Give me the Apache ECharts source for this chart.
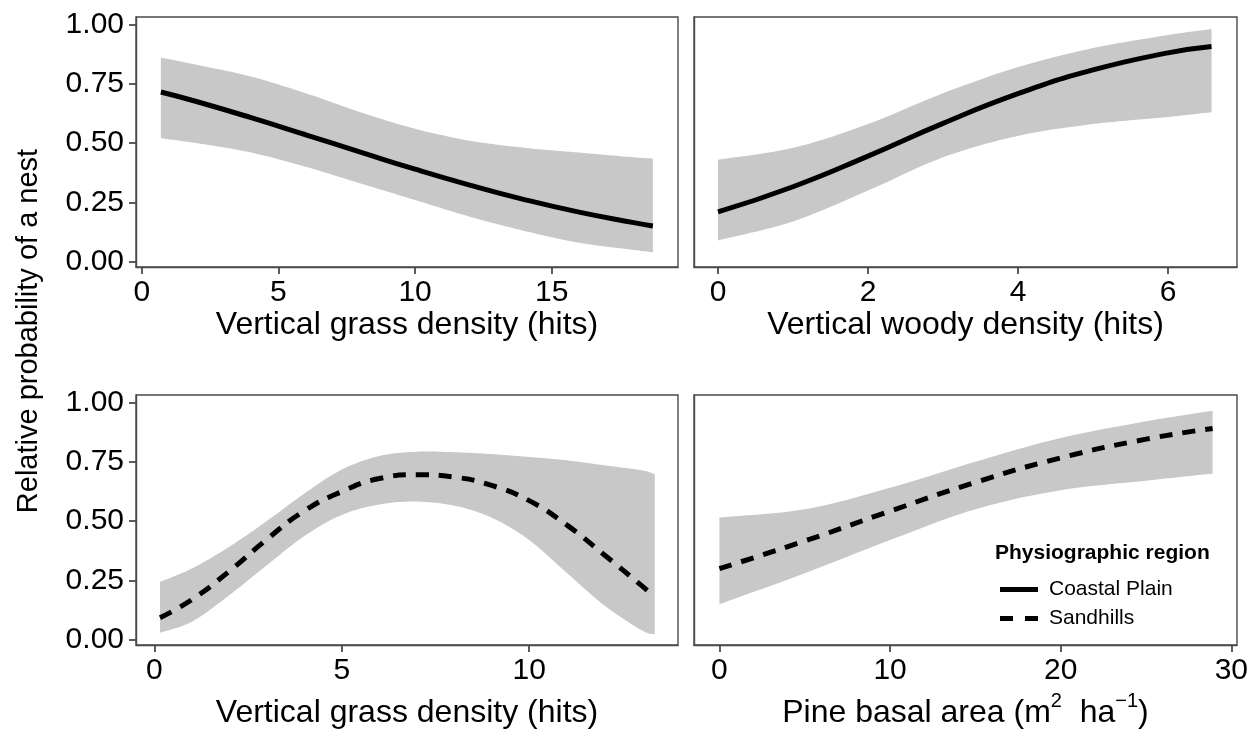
<!DOCTYPE html>
<html><head><meta charset="utf-8">
<script src="https://cdn.jsdelivr.net/npm/echarts@6/dist/echarts.min.js"></script>
<style>html,body{margin:0;padding:0;background:#fff}#c{width:1255px;height:740px}</style>
</head><body><div id="c"></div>
<script>
// ---------- data ----------
const yTicks = [0, 0.25, 0.5, 0.75, 1];
const tlTicks = [0, 5, 10, 15];
const trTicks = [0, 2, 4, 6];
const blTicks = [0, 5, 10];
const brTicks = [0, 10, 20, 30];

// Coastal Plain – vertical grass density
const cpGrassX   = [0.7, 2, 4, 6, 8, 10, 12, 14, 16, 18, 18.7];
const cpGrassFit = [0.715, 0.675, 0.607, 0.535, 0.462, 0.390, 0.323, 0.262, 0.209, 0.165, 0.151];
const cpGrassHi  = [0.86, 0.83, 0.78, 0.71, 0.63, 0.56, 0.51, 0.48, 0.46, 0.44, 0.435];
const cpGrassLo  = [0.52, 0.50, 0.46, 0.40, 0.33, 0.26, 0.19, 0.13, 0.08, 0.05, 0.04];

// Coastal Plain – vertical woody density
const cpWoodyX   = [0, 1, 2, 3, 4, 5, 6, 6.58];
const cpWoodyFit = [0.21, 0.316, 0.445, 0.583, 0.708, 0.808, 0.880, 0.907];
const cpWoodyHi  = [0.43, 0.48, 0.58, 0.71, 0.82, 0.90, 0.955, 0.98];
const cpWoodyLo  = [0.09, 0.17, 0.30, 0.44, 0.53, 0.58, 0.61, 0.63];

// Sandhills – vertical grass density
const shGrassX   = [0.15, 1, 2, 3, 4, 5, 6, 7, 8, 9, 10, 11, 12, 13, 13.35];
const shGrassFit = [0.093, 0.169, 0.289, 0.423, 0.543, 0.624, 0.679, 0.695, 0.685, 0.65, 0.586, 0.484, 0.358, 0.228, 0.18];
const shGrassHi  = [0.244, 0.30, 0.392, 0.50, 0.616, 0.717, 0.774, 0.792, 0.79, 0.782, 0.77, 0.756, 0.735, 0.714, 0.697];
const shGrassLo  = [0.03, 0.076, 0.188, 0.314, 0.437, 0.526, 0.57, 0.582, 0.565, 0.514, 0.42, 0.282, 0.145, 0.04, 0.023];

// Sandhills – pine basal area
const shPineX   = [0, 5, 10, 15, 20, 25, 28.9];
const shPineFit = [0.30, 0.416, 0.542, 0.663, 0.766, 0.845, 0.89];
const shPineHi  = [0.515, 0.55, 0.64, 0.75, 0.85, 0.92, 0.965];
const shPineLo  = [0.15, 0.28, 0.42, 0.55, 0.63, 0.67, 0.70];

// ---------- chart ----------
const FONT = 'Liberation Sans, Arial, sans-serif';
const BORDER = '#4a4a4a';
const BAND = '#c8c8c8';
const DASH = [13, 10];

const grids = [
  {left: 136, top: 17,  width: 542, height: 250},
  {left: 694, top: 17,  width: 543, height: 250},
  {left: 136, top: 395, width: 542, height: 250},
  {left: 694, top: 395, width: 543, height: 250}
].map(g => Object.assign(g, {show: true, borderColor: BORDER, borderWidth: 1.4}));

function xAxisFor(gi, min, max, ticks, name, gap, rich) {
  return {
    gridIndex: gi, type: 'value', min: min, max: max, position: 'bottom', z: 5,
    axisLine: {show: true, onZero: false, lineStyle: {color: BORDER, width: 1.4}}, splitLine: {show: false},
    axisTick: {show: true, inside: false, length: 7, lineStyle: {color: BORDER, width: 1.8}, customValues: ticks},
    axisLabel: {customValues: ticks, fontSize: 30, color: '#000', margin: 11, fontFamily: FONT},
    name: name, nameLocation: 'middle', nameGap: gap,
    nameTextStyle: Object.assign({fontSize: 32, color: '#000', fontFamily: FONT}, rich ? {rich: rich} : {})
  };
}
function yAxisFor(gi, show) {
  return {
    gridIndex: gi, type: 'value', min: -0.022, max: 1.031, position: 'left', z: 5,
    axisLine: {show: true, onZero: false, lineStyle: {color: BORDER, width: 1.4}}, splitLine: {show: false},
    axisTick: {show: show, inside: false, length: 7, lineStyle: {color: BORDER, width: 1.8}, customValues: yTicks},
    axisLabel: {show: show, customValues: yTicks, fontSize: 30, color: '#000', margin: 12, fontFamily: FONT,
      formatter: v => v.toFixed(2)}
  };
}

const supRich = {
  t: {fontSize: 32, color: '#000', fontFamily: FONT, lineHeight: 38, verticalAlign: 'bottom'},
  s: {fontSize: 20, color: '#000', fontFamily: FONT, lineHeight: 38, verticalAlign: 'top'}
};

const xAxes = [
  xAxisFor(0, -0.21, 19.62, tlTicks, 'Vertical grass density (hits)', 34),
  xAxisFor(1, -0.32, 6.92, trTicks, 'Vertical woody density (hits)', 34),
  xAxisFor(2, -0.49, 13.97, blTicks, 'Vertical grass density (hits)', 52),
  xAxisFor(3, -1.49, 30.33, brTicks, '{t|Pine basal area (m}{s|2}{t|  ha}{s|\u22121}{t|)}', 46, supRich)
];
const yAxes = [yAxisFor(0, true), yAxisFor(1, false), yAxisFor(2, true), yAxisFor(3, false)];

// Catmull-Rom sampling of pixel points (rendering only)
function smoothPts(p) {
  const out = [];
  const n = p.length;
  for (let i = 0; i < n - 1; i++) {
    const p0 = p[Math.max(i - 1, 0)], p1 = p[i], p2 = p[i + 1], p3 = p[Math.min(i + 2, n - 1)];
    const steps = 12;
    for (let s = 0; s < steps; s++) {
      const t = s / steps, t2 = t * t, t3 = t2 * t;
      const f = k => 0.5 * ((2 * p1[k]) + (-p0[k] + p2[k]) * t + (2 * p0[k] - 5 * p1[k] + 4 * p2[k] - p3[k]) * t2 + (-p0[k] + 3 * p1[k] - 3 * p2[k] + p3[k]) * t3);
      out.push([f(0), f(1)]);
    }
  }
  out.push(p[n - 1]);
  return out;
}

function zip(xs, ys) { return xs.map((x, i) => [x, ys[i]]); }
function bandSeries(gi, xs, lo, hi) {
  return {
    type: 'custom', name: 'ci' + gi, xAxisIndex: gi, yAxisIndex: gi, silent: true, z: 1, clip: true,
    data: xs.map((x, i) => [x, lo[i], hi[i]]),
    encode: {x: 0, y: [1, 2]},
    renderItem: function (params, api) {
      if (params.dataIndex !== 0) return null;
      const up = smoothPts(xs.map((x, i) => api.coord([x, hi[i]])));
      const dn = smoothPts(xs.map((x, i) => api.coord([x, lo[i]]))).reverse();
      return {type: 'polygon', shape: {points: up.concat(dn)}, style: {fill: BAND, stroke: null}};
    }
  };
}
function panelSeries(gi, xs, fit, lo, hi, name, dashed) {
  return [
    bandSeries(gi, xs, lo, hi),
    {type: 'line', name: name, xAxisIndex: gi, yAxisIndex: gi, smooth: true, symbol: 'none', silent: true,
     lineStyle: {color: '#000', width: 5, type: dashed ? DASH : 'solid', cap: 'butt'},
     itemStyle: {color: '#000'}, data: zip(xs, fit), z: 3}
  ];
}

const series = [].concat(
  panelSeries(0, cpGrassX, cpGrassFit, cpGrassLo, cpGrassHi, 'Coastal Plain', false),
  panelSeries(1, cpWoodyX, cpWoodyFit, cpWoodyLo, cpWoodyHi, 'Coastal Plain', false),
  panelSeries(2, shGrassX, shGrassFit, shGrassLo, shGrassHi, 'Sandhills', true),
  panelSeries(3, shPineX, shPineFit, shPineLo, shPineHi, 'Sandhills', true)
);

const chart = echarts.init(document.getElementById('c'), null, {renderer: 'canvas'});
chart.setOption({
  animation: false,
  backgroundColor: '#fff',
  textStyle: {fontFamily: FONT},
  grid: grids,
  xAxis: xAxes,
  yAxis: yAxes,
  series: series,
  legend: {
    data: [
      {name: 'Coastal Plain', icon: 'path://M0,0h38v5h-38z'},
      {name: 'Sandhills', icon: 'path://M0,0h13v5h-13z M25,0h13v5h-13z'}
    ],
    orient: 'vertical', left: 1000, top: 579, padding: 0,
    itemWidth: 38, itemHeight: 5, itemGap: 8, selectedMode: false,
    itemStyle: {color: '#000'},
    textStyle: {fontSize: 21, color: '#000', fontFamily: FONT, padding: [0, 0, 0, 6]}
  },
  graphic: [
    {type: 'text', x: 29, y: 331, rotation: Math.PI / 2,
     style: {text: 'Relative probability of a nest', fontSize: 29, fontFamily: FONT, fill: '#000',
             align: 'center', verticalAlign: 'middle'}},
    {type: 'text', x: 995, y: 553,
     style: {text: 'Physiographic region', fontSize: 21, fontWeight: 'bold', fontFamily: FONT, fill: '#000',
             align: 'left', verticalAlign: 'middle'}}
  ]
});
</script></body></html>
